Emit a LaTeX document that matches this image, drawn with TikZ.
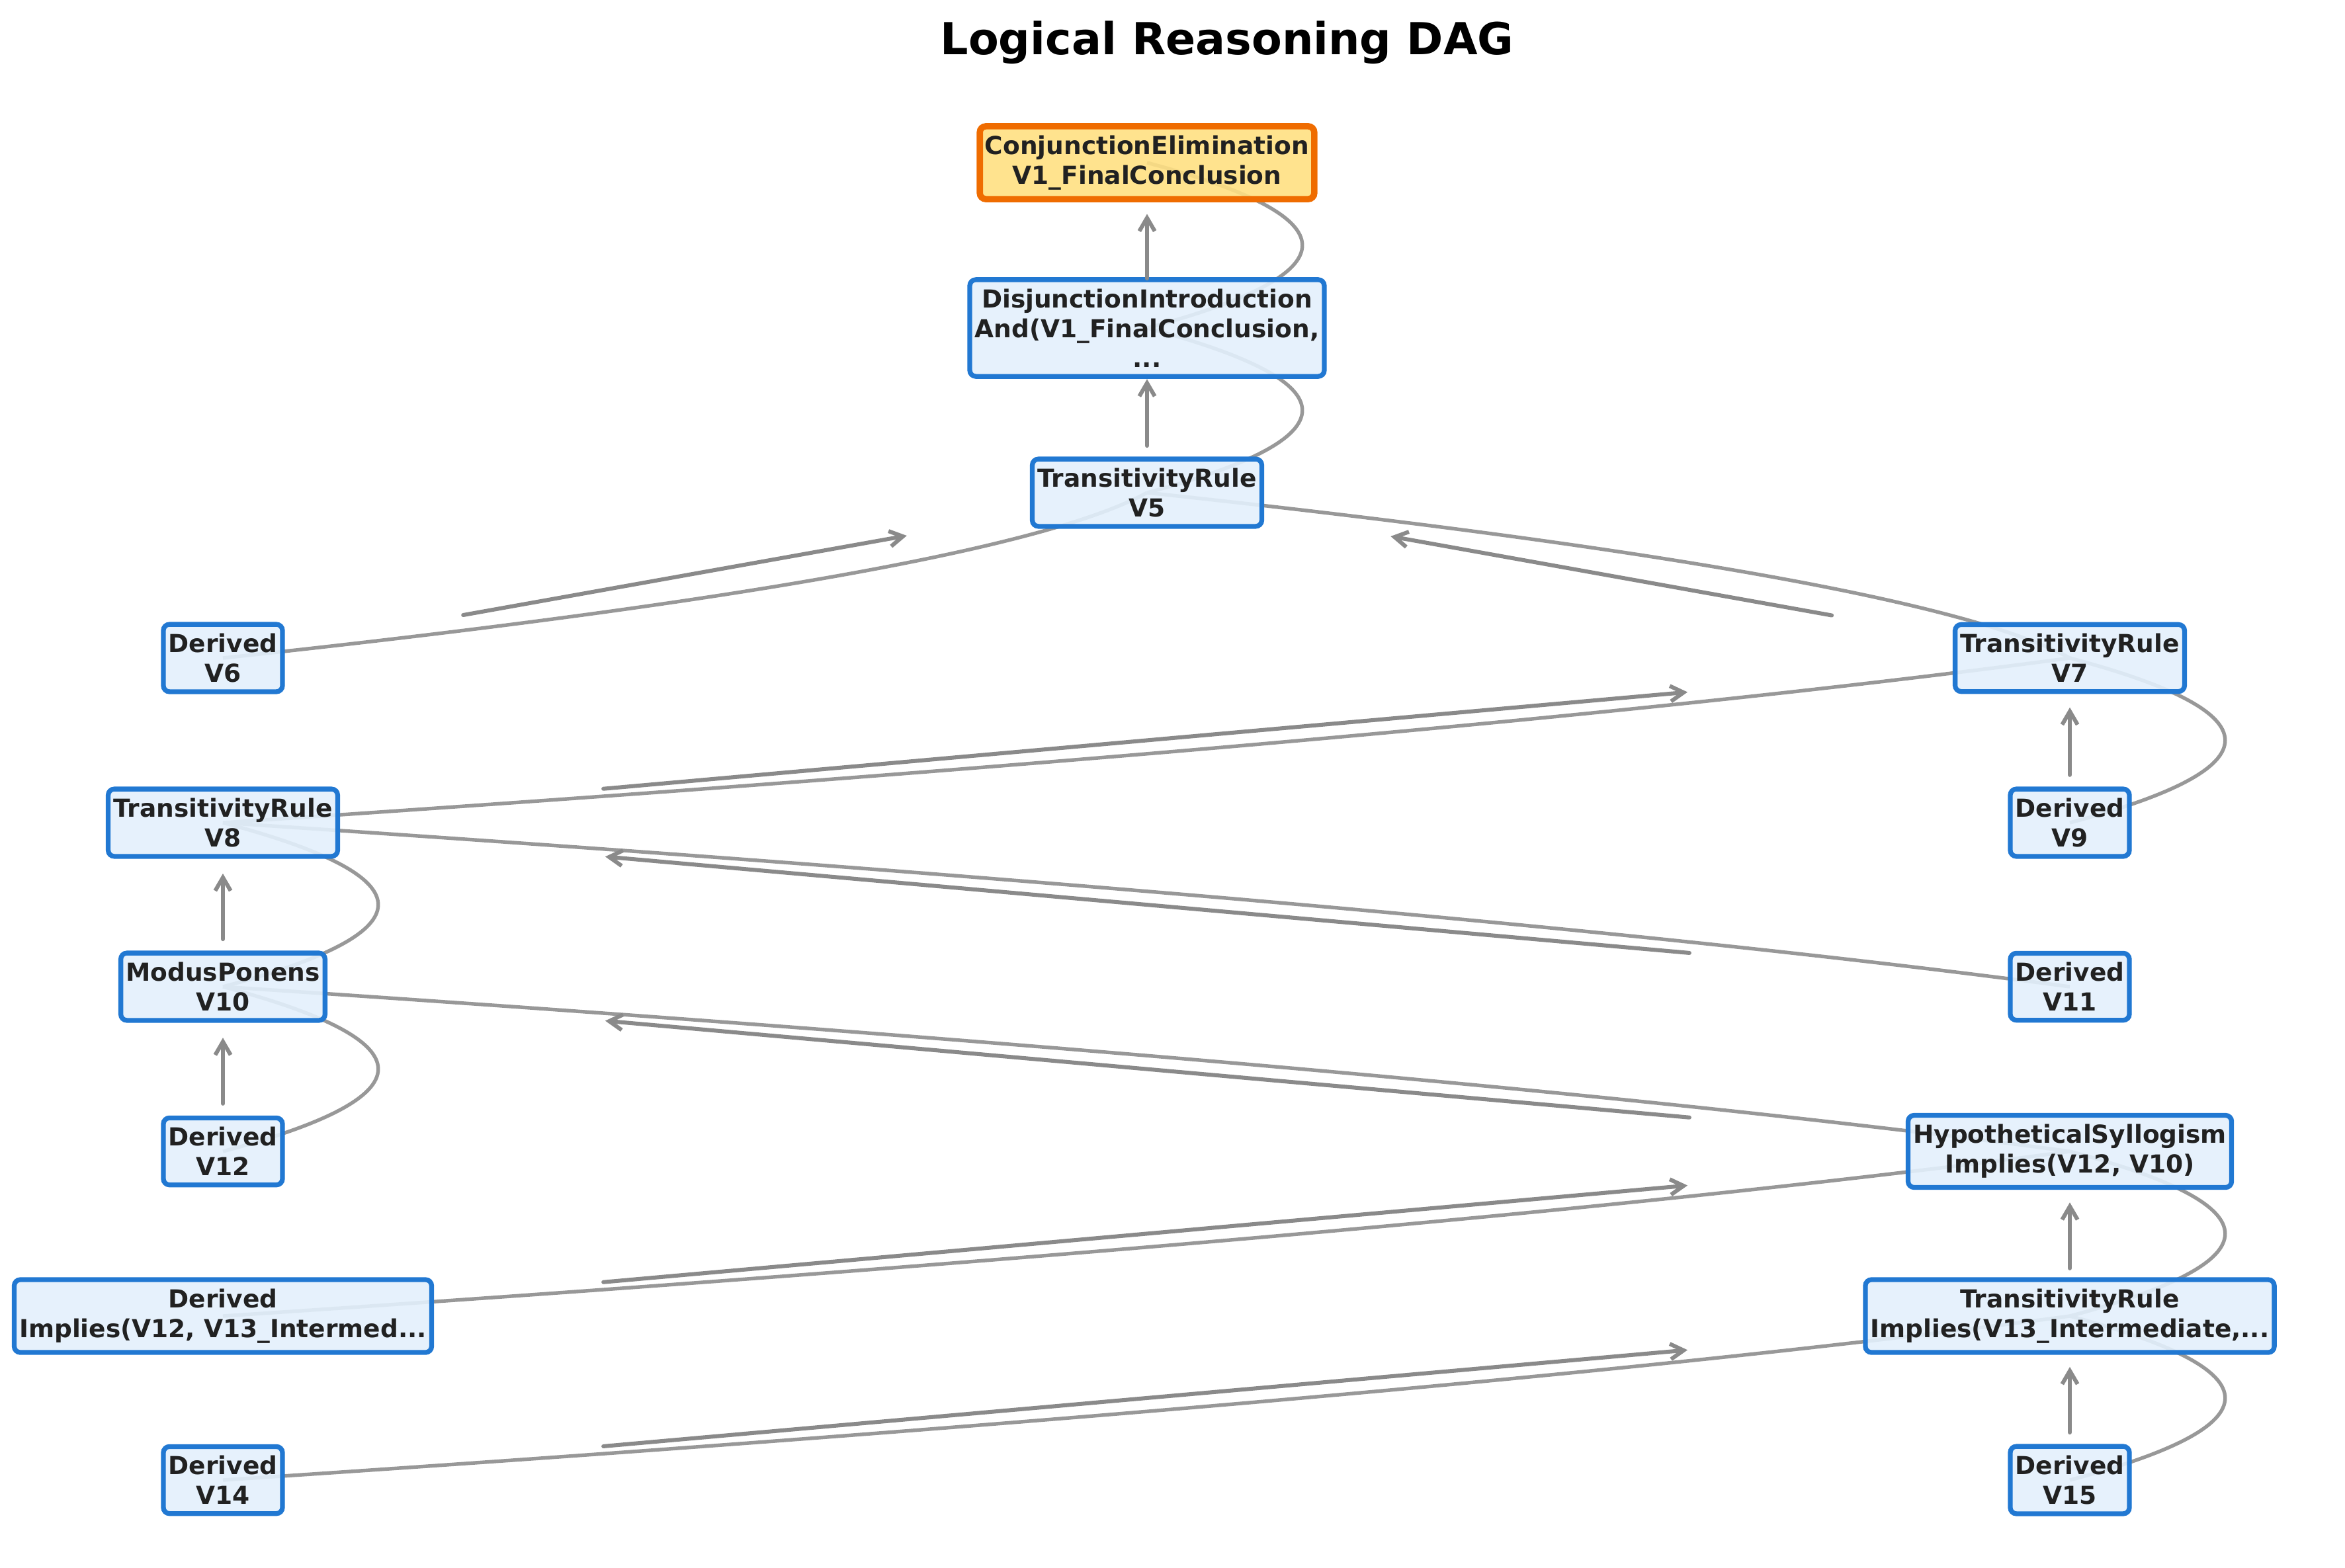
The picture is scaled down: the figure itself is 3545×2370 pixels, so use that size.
\documentclass[tikz,border=0pt]{standalone}
\usepackage{fontspec}
\setmainfont{DejaVu Sans}
\usepackage{tikz}
\usetikzlibrary{arrows.meta, positioning, calc, backgrounds}
\definecolor{boxblue}{RGB}{33,120,210}
\definecolor{boxfill}{RGB}{227,240,252}
\definecolor{goalorange}{RGB}{239,108,0}
\definecolor{goalfill}{RGB}{255,224,130}
\definecolor{edgegray}{RGB}{152,152,152}
\definecolor{arrowgray}{RGB}{138,138,138}
\definecolor{inkdark}{RGB}{33,33,33}

\begin{document}
\begin{tikzpicture}[
    x=0.24pt, y=-0.24pt,
    every node/.style={font=\fontsize{9}{10.8}\selectfont\bfseries, text=inkdark},
    rulebox/.style={rectangle, rounded corners=2.2pt, draw=boxblue, line width=1.75pt, fill=boxfill, fill opacity=0.9, text opacity=1, align=center, inner xsep=1.85pt, minimum height=24pt},
    goalbox/.style={rulebox, draw=goalorange, fill=goalfill, line width=2.3pt},
    link/.style={edgegray, line width=1.3pt},
    flow/.style={-{Straight Barb[length=4.8pt,width=5.6pt]}, arrowgray, line width=1.45pt, line cap=round},
    title/.style={font=\fontsize{16}{19}\selectfont\bfseries, text=black}
]
\useasboundingbox (0,0) rectangle (3545,2370);

% Titulo
\node[title, anchor=base] (ttl) at (1855,82) {Logical Reasoning DAG};

% Nodos del DAG
\node[goalbox] (v1) at (1734,246) {ConjunctionElimination\\V1\_FinalConclusion};
\node[rulebox, minimum height=35pt] (dis) at (1734,496) {DisjunctionIntroduction\\And(V1\_FinalConclusion,\\...};
\node[rulebox] (v5)  at (1734,745)  {TransitivityRule\\V5};
\node[rulebox] (v6)  at (337,995)   {Derived\\V6};
\node[rulebox] (v7)  at (3129,995)  {TransitivityRule\\V7};
\node[rulebox] (v8)  at (337,1244)  {TransitivityRule\\V8};
\node[rulebox] (v9)  at (3129,1244) {Derived\\V9};
\node[rulebox] (v10) at (337,1492)  {ModusPonens\\V10};
\node[rulebox] (v11) at (3129,1492) {Derived\\V11};
\node[rulebox] (v12) at (337,1741)  {Derived\\V12};
\node[rulebox] (hs)  at (3129,1741) {HypotheticalSyllogism\\Implies(V12, V10)};
\node[rulebox] (di)  at (337,1990)  {Derived\\Implies(V12, V13\_Intermed...};
\node[rulebox] (ti)  at (3129,1990) {TransitivityRule\\Implies(V13\_Intermediate,...};
\node[rulebox] (v14) at (337,2238)  {Derived\\V14};
\node[rulebox] (v15) at (3129,2238) {Derived\\V15};

% Aristas curvas detras de los nodos
\begin{scope}[on background layer]
\foreach \s/\t in {dis/v1, v5/dis, v6/v5, v7/v5, v8/v7, v9/v7, v11/v8, v10/v8, hs/v10, v12/v10, di/hs, ti/hs, v14/ti, v15/ti} {
    \draw[link] (\s.center) .. controls ($(\s.center)!1/3!(\t.center)+(313,0)$) and ($(\s.center)!2/3!(\t.center)+(313,0)$) .. (\t.center);
}
\end{scope}

% Flechas
\foreach \s/\t/\a/\b in {dis/v1/0.30/0.69, v5/dis/0.285/0.69, v6/v5/0.26/0.74, v7/v5/0.258/0.736, v8/v7/0.206/0.793, v9/v7/0.29/0.70, v11/v8/0.206/0.793, v10/v8/0.29/0.69, hs/v10/0.206/0.793, v12/v10/0.29/0.69, di/hs/0.206/0.793, ti/hs/0.29/0.69, v14/ti/0.206/0.793, v15/ti/0.29/0.69} {
    \draw[flow] ($(\s.center)!\a!(\t.center)$) -- ($(\s.center)!\b!(\t.center)$);
}

\end{tikzpicture}
\end{document}
